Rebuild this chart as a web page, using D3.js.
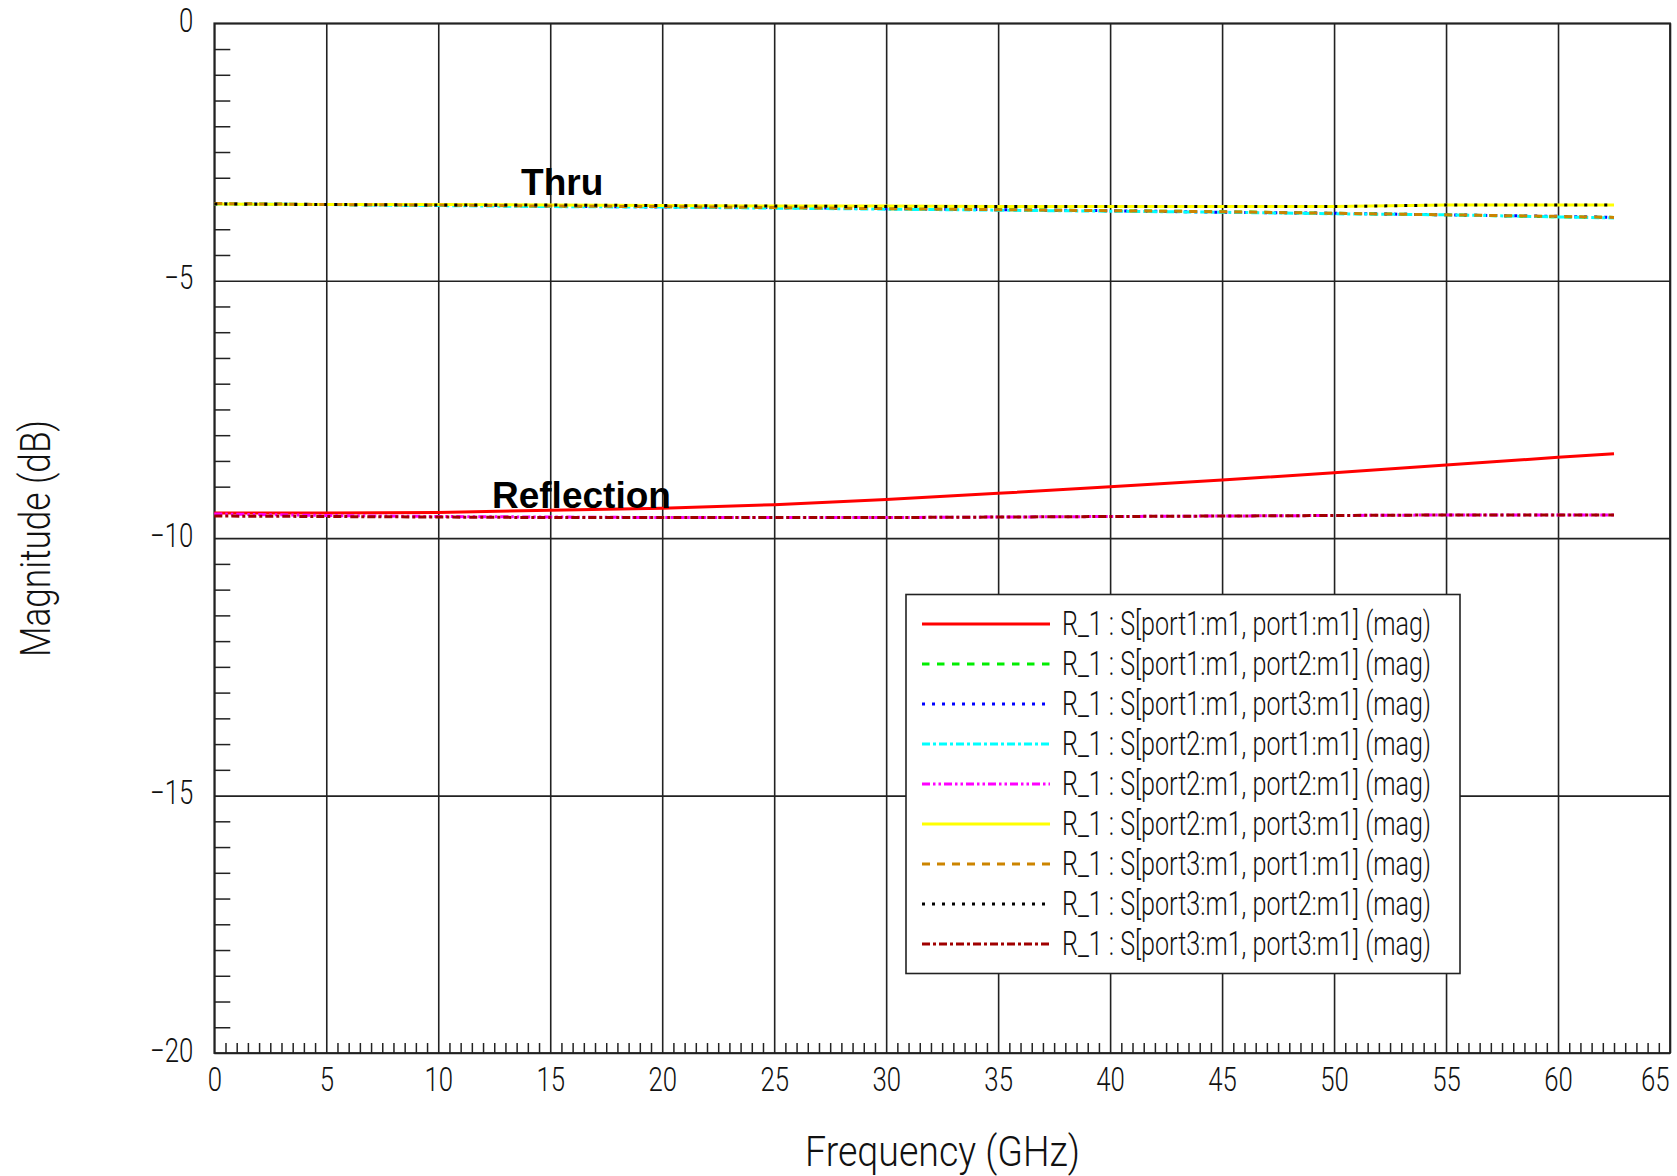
<!DOCTYPE html>
<html>
<head>
<meta charset="utf-8">
<script src="https://cdn.jsdelivr.net/npm/d3@7"></script>
<style>
  html, body { margin: 0; padding: 0; background: #ffffff; }
  svg { display: block; }
</style>
</head>
<body>
<svg id="chart" width="1677" height="1176"></svg>
<script>
// ---- data: S-parameter magnitudes (dB) vs frequency (GHz) ----
const freqGHz = [0, 5, 10, 15, 20, 25, 30, 35, 40, 45, 50, 55, 60, 62.5];

const s11 = [-9.51, -9.51, -9.50, -9.46, -9.42, -9.35, -9.25, -9.13, -9.00, -8.87, -8.73, -8.58, -8.43, -8.36];
const s12 = [-3.50, -3.52, -3.53, -3.55, -3.56, -3.58, -3.60, -3.62, -3.64, -3.66, -3.69, -3.72, -3.76, -3.77];
const s13 = [-3.50, -3.52, -3.53, -3.55, -3.57, -3.58, -3.60, -3.62, -3.64, -3.67, -3.69, -3.72, -3.75, -3.77];
const s21 = [-3.51, -3.52, -3.54, -3.56, -3.57, -3.59, -3.61, -3.63, -3.65, -3.67, -3.70, -3.72, -3.76, -3.78];
const s22 = [-9.53, -9.56, -9.58, -9.59, -9.60, -9.60, -9.60, -9.59, -9.58, -9.57, -9.56, -9.55, -9.55, -9.55];
const s23 = [-3.51, -3.52, -3.52, -3.53, -3.54, -3.55, -3.55, -3.56, -3.56, -3.56, -3.56, -3.53, -3.53, -3.53];
const s31 = [-3.50, -3.52, -3.53, -3.55, -3.56, -3.58, -3.60, -3.62, -3.64, -3.66, -3.69, -3.72, -3.75, -3.77];
const s32 = [-3.51, -3.52, -3.53, -3.53, -3.54, -3.55, -3.56, -3.56, -3.56, -3.56, -3.56, -3.53, -3.53, -3.53];
const s33 = [-9.57, -9.58, -9.59, -9.60, -9.60, -9.60, -9.60, -9.59, -9.58, -9.57, -9.56, -9.55, -9.55, -9.55];

const seriesLabels = [
  "R_1 : S[port1:m1, port1:m1] (mag)",
  "R_1 : S[port1:m1, port2:m1] (mag)",
  "R_1 : S[port1:m1, port3:m1] (mag)",
  "R_1 : S[port2:m1, port1:m1] (mag)",
  "R_1 : S[port2:m1, port2:m1] (mag)",
  "R_1 : S[port2:m1, port3:m1] (mag)",
  "R_1 : S[port3:m1, port1:m1] (mag)",
  "R_1 : S[port3:m1, port2:m1] (mag)",
  "R_1 : S[port3:m1, port3:m1] (mag)"
];
const seriesValues = [s11, s12, s13, s21, s22, s23, s31, s32, s33];

const xTicks = [0, 5, 10, 15, 20, 25, 30, 35, 40, 45, 50, 55, 60, 65];
const yTicks = [0, -5, -10, -15, -20];

// group labels, anchored at (frequency, dB) of their baseline start
const annotations = [
  { text: "Thru", f: 13.7, db: -3.33 },
  { text: "Reflection", f: 12.4, db: -9.42 }
];

// ---- presentation ----
const seriesStyles = [
  { color: "#ff0000", dash: null },
  { color: "#00ee00", dash: "7.5,7.5" },
  { color: "#0000ff", dash: "3,7" },
  { color: "#00ffff", dash: "8,3,3,3" },
  { color: "#ff00ff", dash: "8,3,2.5,3,2.5,3" },
  { color: "#ffff00", dash: null },
  { color: "#cc8400", dash: "8,7" },
  { color: "#000000", dash: "3,7" },
  { color: "#a00000", dash: "8,3,3,3" }
];

const W = 1677, H = 1176;
const plot = { left: 214.3, right: 1670, top: 23.3, bottom: 1053 };
const thinFont = "Roboto, 'Liberation Sans', 'DejaVu Sans', sans-serif";

const svg = d3.select("#chart");
svg.append("rect").attr("width", W).attr("height", H).attr("fill", "#fff");

const x = d3.scaleLinear().domain([0, 65]).range([plot.left, plot.right]);
const y = d3.scaleLinear().domain([0, -20]).range([plot.top, plot.bottom]);
const plotW = plot.right - plot.left, plotH = plot.bottom - plot.top;

// squeeze text horizontally to imitate the narrow plotter font
function narrow(sel, factor) {
  sel.each(function () {
    const n = this.getComputedTextLength();
    d3.select(this).attr("textLength", n * factor).attr("lengthAdjust", "spacingAndGlyphs");
  });
}

// minor ticks every 0.5 units
const yMinor = d3.range(0, -20.01, -0.5).filter(v => Math.abs(v % 5) > 1e-6);
const xMinor = d3.range(0, 65.01, 0.5).filter(v => Math.abs(v % 5) > 1e-6);

svg.append("g")
  .attr("transform", `translate(${plot.left},0)`)
  .call(d3.axisLeft(y).tickValues(yMinor).tickSize(-16).tickFormat(""))
  .call(g => g.select(".domain").remove())
  .selectAll("line").attr("stroke", "#222").attr("stroke-width", 1.5);

svg.append("g")
  .attr("transform", `translate(0,${plot.bottom})`)
  .call(d3.axisBottom(x).tickValues(xMinor).tickSize(-10).tickFormat(""))
  .call(g => g.select(".domain").remove())
  .selectAll("line").attr("stroke", "#222").attr("stroke-width", 1.5);

// major grid + labels
const yAxis = svg.append("g")
  .attr("transform", `translate(${plot.left},0)`)
  .call(d3.axisLeft(y).tickValues(yTicks).tickSize(-plotW).tickPadding(21)
    .tickFormat(d => d3.format("")(d).replace("-", "\u2212")));
yAxis.select(".domain").remove();
yAxis.selectAll("line").attr("stroke", "#222").attr("stroke-width", 1.6);
yAxis.selectAll("text")
  .attr("dy", null).attr("y", 8)
  .attr("fill", "#111")
  .style("font-family", thinFont).style("font-weight", 300).style("font-size", "33px")
  .call(narrow, 0.78);

const xAxis = svg.append("g")
  .attr("transform", `translate(0,${plot.bottom})`)
  .call(d3.axisBottom(x).tickValues(xTicks).tickSize(-plotH));
xAxis.select(".domain").remove();
xAxis.selectAll("line").attr("stroke", "#222").attr("stroke-width", 1.6);
xAxis.selectAll("text")
  .attr("dy", null).attr("y", 38)
  .attr("fill", "#111")
  .style("font-family", thinFont).style("font-weight", 300).style("font-size", "33px")
  .call(narrow, 0.78);
xAxis.selectAll(".tick").filter(d => d === 65).select("text")
  .attr("text-anchor", "end").attr("x", -1);

// plot frame
svg.append("rect")
  .attr("x", plot.left).attr("y", plot.top)
  .attr("width", plotW).attr("height", plotH)
  .attr("fill", "none").attr("stroke", "#222").attr("stroke-width", 1.8);

// curves
const line = d3.line().x((d, i) => x(freqGHz[i])).y(d => y(d));
svg.append("g").selectAll("path")
  .data(seriesValues)
  .join("path")
  .attr("d", d => line(d))
  .attr("fill", "none")
  .attr("stroke", (d, i) => seriesStyles[i].color)
  .attr("stroke-width", 3)
  .attr("stroke-dasharray", (d, i) => seriesStyles[i].dash);

// annotations
svg.append("g").selectAll("text")
  .data(annotations)
  .join("text")
  .attr("x", d => x(d.f))
  .attr("y", d => y(d.db))
  .text(d => d.text)
  .attr("fill", "#000")
  .style("font-family", "'Liberation Sans', Arial, sans-serif")
  .style("font-weight", "bold")
  .style("font-size", "37px");

// legend
const legend = { x: 906, y: 594.5, w: 554, h: 379, row0: 624, rowStep: 40 };
const lg = svg.append("g");
lg.append("rect")
  .attr("x", legend.x).attr("y", legend.y)
  .attr("width", legend.w).attr("height", legend.h)
  .attr("fill", "#fff").attr("stroke", "#222").attr("stroke-width", 1.6);
const rows = lg.selectAll("g.row")
  .data(seriesLabels)
  .join("g").attr("class", "row")
  .attr("transform", (d, i) => `translate(0,${legend.row0 + i * legend.rowStep})`);
rows.append("line")
  .attr("x1", 922).attr("x2", 1050)
  .attr("stroke", (d, i) => seriesStyles[i].color)
  .attr("stroke-width", 3)
  .attr("stroke-dasharray", (d, i) => seriesStyles[i].dash);
const legendText = rows.append("text")
  .attr("x", 1062).attr("y", 11)
  .text(d => d)
  .attr("fill", "#111")
  .style("font-family", thinFont).style("font-weight", 300).style("font-size", "33px");
{
  const base = legendText.node().getComputedTextLength();
  narrow(legendText, 369 / base);
}

// axis titles
svg.append("text")
  .attr("x", 805).attr("y", 1166)
  .text("Frequency (GHz)")
  .attr("fill", "#111")
  .style("font-family", thinFont).style("font-weight", 300).style("font-size", "42px")
  .attr("textLength", 275).attr("lengthAdjust", "spacingAndGlyphs");

svg.append("text")
  .attr("transform", "translate(50,657) rotate(-90)")
  .text("Magnitude (dB)")
  .attr("fill", "#111")
  .style("font-family", thinFont).style("font-weight", 300).style("font-size", "42px")
  .attr("textLength", 237).attr("lengthAdjust", "spacingAndGlyphs");
</script>
</body>
</html>
